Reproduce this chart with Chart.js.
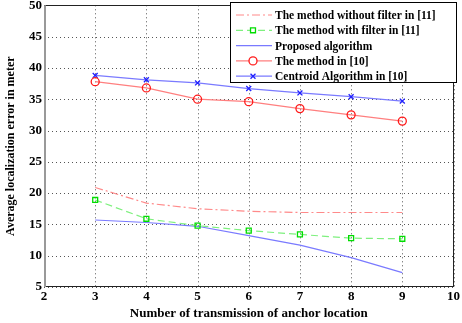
<!DOCTYPE html>
<html>
<head>
<meta charset="utf-8">
<script src="https://cdn.jsdelivr.net/npm/chart.js@4"></script>
<style>
  html, body { margin: 0; padding: 0; background: #fff; }
  #wrap { width: 462px; height: 323px; }
</style>
</head>
<body>
<div id="wrap"><canvas id="c" width="462" height="323"></canvas></div>
<script>
// values
const transmissions = [3, 4, 5, 6, 7, 8, 9];
const withoutFilter11 = [20.9, 18.4, 17.5, 17.1, 16.9, 16.9, 16.9];
const withFilter11 = [18.9, 15.9, 14.8, 14.0, 13.4, 12.8, 12.7];
const proposed = [15.7, 15.3, 14.7, 13.2, 11.7, 9.7, 7.3];
const method10 = [37.8, 36.8, 35.0, 34.6, 33.5, 32.5, 31.5];
const centroid10 = [38.8, 38.1, 37.6, 36.7, 36.0, 35.4, 34.7];

const FONT = 'Liberation Serif';

const pts = arr => arr.map((v, i) => ({ x: transmissions[i], y: v }));

// boxed legend inside the plot, like the Matlab one
const boxLegend = {
  id: 'boxLegend',
  afterDraw(chart) {
    const ctx = chart.ctx;
    const x0 = 230, y0 = 2, w = 227, h = 81;
    ctx.save();
    ctx.fillStyle = '#fff';
    ctx.fillRect(x0, y0, w, h);
    ctx.strokeStyle = '#000';
    ctx.lineWidth = 1;
    ctx.strokeRect(x0 + 0.5, y0 + 0.5, w - 1, h - 1);
    ctx.font = 'bold 11.5px "' + FONT + '"';
    ctx.textBaseline = 'middle';
    chart.data.datasets.forEach((ds, i) => {
      const y = 15 + i * 15.3;
      ctx.strokeStyle = ds.borderColor;
      ctx.lineWidth = 1.2;
      ctx.setLineDash(ds.borderDash || []);
      ctx.beginPath();
      ctx.moveTo(x0 + 6, y);
      ctx.lineTo(x0 + 42, y);
      ctx.stroke();
      ctx.setLineDash([]);
      if (ds.pointRadius > 0) {
        ctx.strokeStyle = ds.pointBorderColor;
        ctx.fillStyle = '#fff';
        ctx.lineWidth = ds.pointBorderWidth;
        Chart.helpers.drawPoint(ctx, {
          pointStyle: ds.pointStyle,
          radius: ds.pointRadius,
          borderWidth: ds.pointBorderWidth,
          rotation: 0
        }, x0 + 23, y);
      }
      ctx.fillStyle = '#000';
      ctx.fillText(ds.label, x0 + 45, y + 1);
    });
    ctx.restore();
  }
};

// dotted grid + full box around the plot area
const frame = {
  id: 'frame',
  beforeDatasetsDraw(chart) {
    const a = chart.chartArea, ctx = chart.ctx;
    const xs = chart.scales.x, ys = chart.scales.y;
    ctx.save();
    ctx.strokeStyle = '#555';
    ctx.lineWidth = 1;
    ctx.setLineDash([1, 3]);
    ctx.beginPath();
    xs.ticks.forEach(t => {
      const px = Math.round(xs.getPixelForValue(t.value)) + 0.5;
      ctx.moveTo(px, a.top); ctx.lineTo(px, a.bottom);
    });
    ys.ticks.forEach(t => {
      const py = Math.round(ys.getPixelForValue(t.value)) + 0.5;
      ctx.moveTo(a.left, py); ctx.lineTo(a.right, py);
    });
    ctx.stroke();
    ctx.setLineDash([]);
    ctx.strokeStyle = '#222';
    ctx.strokeRect(Math.round(a.left) + 0.5, Math.round(a.top) + 0.5,
      Math.round(a.right - a.left) - 1, Math.round(a.bottom - a.top) - 1);
    ctx.strokeStyle = '#999';
    ctx.lineWidth = 2;
    ctx.beginPath();
    ctx.moveTo(Math.round(a.left) + 1, a.top);
    ctx.lineTo(Math.round(a.left) + 1, a.bottom);
    ctx.stroke();
    ctx.restore();
  }
};

function pointSetup(style, color, radius) {
  return { pointStyle: style, pointRadius: radius, pointBorderColor: color,
    pointBackgroundColor: 'rgba(0,0,0,0)', pointBorderWidth: 1.3, pointHoverRadius: radius };
}

const tickFont = { family: FONT, size: 13, weight: 'bold' };

new Chart(document.getElementById('c'), {
  type: 'line',
  data: {
    datasets: [
      {
        label: 'The method without filter in [11]',
        data: pts(withoutFilter11),
        borderColor: '#ff8a8a',
        borderWidth: 1.2,
        borderDash: [8, 3, 2, 3],
        pointRadius: 0,
        pointStyle: 'circle'
      },
      Object.assign({
        label: 'The method with filter in [11]',
        data: pts(withFilter11),
        borderColor: '#7ef07e',
        borderWidth: 1.2,
        borderDash: [7, 4]
      }, pointSetup('rect', '#00dd00', 3.5)),
      {
        label: 'Proposed algorithm',
        data: pts(proposed),
        borderColor: '#7a7aff',
        borderWidth: 1.2,
        pointRadius: 0,
        pointStyle: 'circle'
      },
      Object.assign({
        label: 'The method in [10]',
        data: pts(method10),
        borderColor: '#ff7f7f',
        borderWidth: 1.2
      }, pointSetup('circle', '#ff1a1a', 4)),
      Object.assign({
        label: 'Centroid Algorithm in [10]',
        data: pts(centroid10),
        borderColor: '#7a7aff',
        borderWidth: 1.2
      }, pointSetup('crossRot', '#2020ff', 3.5))
    ]
  },
  options: {
    responsive: false,
    animation: false,
    layout: { padding: { top: 0, right: 7, left: 0, bottom: 0 } },
    plugins: {
      legend: { display: false },
      tooltip: { enabled: false }
    },
    scales: {
      x: {
        type: 'linear',
        min: 2, max: 10,
        ticks: { stepSize: 1, color: '#000', font: tickFont, padding: 2, maxRotation: 0 },
        grid: { display: false, drawTicks: false },
        border: { display: false },
        title: { display: true, text: 'Number of transmission of anchor location', color: '#000',
          font: { family: FONT, size: 13, weight: 'bold' }, padding: { top: 0, bottom: 2 } },
        afterFit: s => { s.height = 36; }
      },
      y: {
        min: 5, max: 50,
        ticks: { stepSize: 5, color: '#000', font: tickFont, padding: 2 },
        grid: { display: false, drawTicks: false },
        border: { display: false },
        title: { display: true, text: 'Average localization error in meter', color: '#000',
          font: { family: FONT, size: 12, weight: 'bold' }, padding: { top: 4, bottom: 0 } },
        afterFit: s => { s.width = 44; s.paddingTop = 5; }
      }
    }
  },
  plugins: [frame, boxLegend]
});
</script>
</body>
</html>
